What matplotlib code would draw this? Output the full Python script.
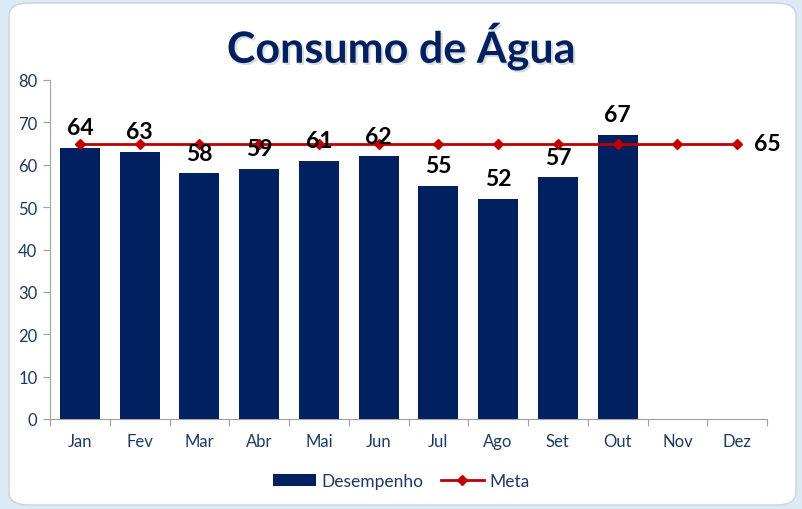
import matplotlib.pyplot as plt
import matplotlib.patheffects as pe
from matplotlib.patches import FancyBboxPatch
from matplotlib.lines import Line2D
from matplotlib.patches import Patch
import numpy as np

plt.rcParams['font.family'] = ['Lato', 'DejaVu Sans']

meses = ["Jan", "Fev", "Mar", "Abr", "Mai", "Jun", "Jul", "Ago", "Set", "Out", "Nov", "Dez"]
desempenho = [64, 63, 58, 59, 61, 62, 55, 52, 57, 67]
meta = [65] * 12

azul = "#002060"
vermelho = "#C00000"
texto_eixo = "#1F3864"

fig = plt.figure(figsize=(8.02, 5.10), dpi=100)
fig.patch.set_facecolor("#DCEAF6")

# cartão branco com cantos arredondados
card = FancyBboxPatch((9 / 802, 4 / 510), 787 / 802, 502 / 510,
                      boxstyle="round,pad=0,rounding_size=0.025",
                      transform=fig.transFigure, facecolor="white",
                      edgecolor="#C9D3DD", linewidth=1, zorder=-5)
fig.patches.append(card)

ax = fig.add_axes([50 / 802, 1 - 420 / 510, 717 / 802, 339 / 510])
ax.set_facecolor("none")

x = np.arange(len(meses))
ax.bar(x[:len(desempenho)], desempenho, width=0.67, color=azul, zorder=2)
ax.plot(x, meta, color=vermelho, linewidth=2, marker="D", markersize=5, zorder=3)

for xi, v in zip(x, desempenho):
    ax.annotate(str(v), (xi, v), xytext=(0, 7), textcoords="offset points",
                ha="center", va="bottom", fontsize=16.5, fontweight="bold", color="black", zorder=4)
ax.annotate(str(meta[-1]), (x[-1], meta[-1]), xytext=(12, 0), textcoords="offset points",
            ha="left", va="center", fontsize=16.5, fontweight="bold", color="black")

ax.set_xlim(-0.5, len(meses) - 0.5)
ax.set_ylim(0, 80)
ax.set_yticks(range(0, 81, 10))
ax.set_xticks(np.arange(-0.5, len(meses), 1), minor=False)
ax.set_xticklabels([])
ax.set_xticks(x, minor=True)
ax.set_xticklabels(meses, minor=True)
ax.tick_params(axis="x", which="minor", length=0, pad=10, labelsize=12, labelcolor=texto_eixo)
ax.tick_params(axis="x", which="major", length=5, color="#A0A0A0")
ax.tick_params(axis="y", length=5, color="#A0A0A0", labelsize=12, labelcolor=texto_eixo, pad=4)

for s in ["top", "right"]:
    ax.spines[s].set_visible(False)
for s in ["left", "bottom"]:
    ax.spines[s].set_color("#A0A0A0")

fig.text(0.5, 1 - 47 / 510, "Consumo de Água", ha="center", va="center",
         fontsize=31, fontweight="bold", color=azul,
         path_effects=[pe.SimplePatchShadow(offset=(1.5, -1.5), alpha=0.15), pe.Normal()])

handles = [Patch(facecolor=azul, label="Desempenho"),
           Line2D([0], [0], color=vermelho, linewidth=2, marker="D", markersize=5, label="Meta")]
fig.legend(handles=handles, loc="center", bbox_to_anchor=(0.5, 1 - 482 / 510), ncol=2,
           frameon=False, fontsize=12.5, handlelength=2.5, handletextpad=0.3, columnspacing=1.0,
           labelcolor=texto_eixo)

fig.savefig("out.png", dpi=100)
